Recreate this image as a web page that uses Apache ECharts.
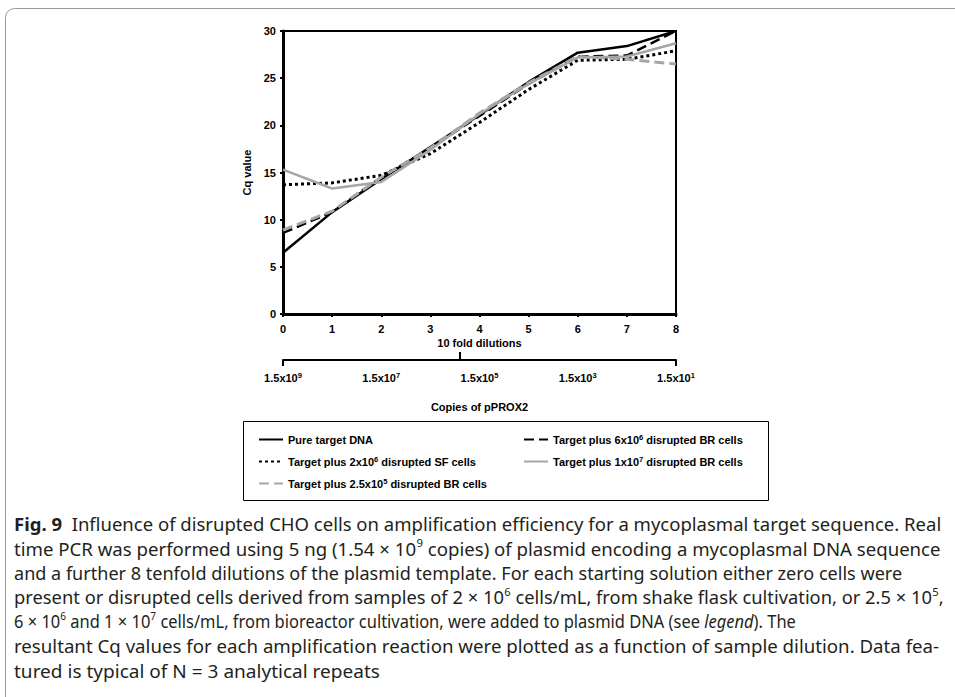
<!DOCTYPE html>
<html><head><meta charset="utf-8">
<script src="https://cdn.jsdelivr.net/npm/echarts@6/dist/echarts.min.js"></script>
<style>html,body{margin:0;padding:0;background:#fff}#c{width:955px;height:697px}</style>
</head><body><div id="c"></div>
<script>
// ---- data ----
const dilutions = [0, 1, 2, 3, 4, 5, 6, 7, 8];
const pureTargetDNA = [6.5, 10.8, 14.3, 17.7, 21.1, 24.6, 27.7, 28.4, 30.0];
const br6x10e6 = [8.6, 10.8, 14.5, 17.6, 21.0, 24.4, 27.3, 27.4, 30.0];
const sf2x10e6 = [13.7, 13.9, 14.7, 17.0, 20.3, 23.8, 26.9, 27.0, 27.9];
const br1x10e7 = [15.3, 13.3, 14.0, 17.4, 21.2, 24.4, 27.2, 27.3, 28.7];
const br25x10e5 = [8.9, 10.9, 14.5, 17.6, 21.3, 24.5, 27.3, 27.0, 26.5];
const seriesNames = [
  'Pure target DNA',
  'Target plus 6x10^6 disrupted BR cells',
  'Target plus 2x10^6 disrupted SF cells',
  'Target plus 1x10^7 disrupted BR cells',
  'Target plus 2.5x10^5 disrupted BR cells'
];
const copyTickValues = [0, 2, 4, 6, 8];
const copyTickLabels = ['1.5x10^9', '1.5x10^7', '1.5x10^5', '1.5x10^3', '1.5x10^1'];
const captionLines = [
  '{b|Fig. 9}  Influence of disrupted CHO cells on amplification efficiency for a mycoplasmal target sequence. Real',
  'time PCR was performed using 5 ng (1.54 × 10{s|9} copies) of plasmid encoding a mycoplasmal DNA sequence',
  'and a further 8 tenfold dilutions of the plasmid template. For each starting solution either zero cells were',
  'present or disrupted cells derived from samples of 2 × 10{s|6} cells/mL, from shake flask cultivation, or 2.5 × 10{s|5},',
  '6 × 10{s|6} and 1 × 10{s|7} cells/mL, from bioreactor cultivation, were added to plasmid DNA (see {i|legend}). The',
  'resultant Cq values for each amplification reaction were plotted as a function of sample dilution. Data fea-',
  'tured is typical of N = 3 analytical repeats'
];
// layout: right edge of each caption line in the reference
const captionRight = [942, 941, 903, 944, 796, 940, 380];

// ---- helpers ----
const supFmt = s => s.replace(/\^(\d+)/g, '{sup|$1}');
const AX = 'Liberation Sans';
const pts = arr => dilutions.map((d, i) => [d, arr[i]]);
const GRAY = '#a6a6a6';

const capFont = 'Noto Sans';
const capSize = 18;
const capLeft = 14;
const ctx = document.createElement('canvas').getContext('2d');
function richWidth(str) {
  let w = 0;
  const re = /\{(\w)\|([^}]*)\}|([^{]+)/g;
  let m;
  while ((m = re.exec(str))) {
    if (m[3] !== undefined) { ctx.font = capSize + 'px "' + capFont + '"'; w += ctx.measureText(m[3]).width; }
    else if (m[1] === 'b') { ctx.font = 'bold ' + capSize + 'px "' + capFont + '"'; w += ctx.measureText(m[2]).width; }
    else if (m[1] === 'i') { ctx.font = 'italic ' + capSize + 'px "' + capFont + '"'; w += ctx.measureText(m[2]).width; }
    else { ctx.font = '11px "' + capFont + '"'; w += ctx.measureText(m[2]).width; }
  }
  return w;
}

const capRich = {
  b: { fontFamily: capFont, fontSize: capSize, fontWeight: 'bold', fill: '#231f20' },
  s: { fontFamily: capFont, fontSize: 11, verticalAlign: 'top', fill: '#231f20' },
  i: { fontFamily: capFont, fontSize: capSize, fontStyle: 'italic', fill: '#231f20' }
};

const graphics = [
  { type: 'rect', silent: true, shape: { x: 5.5, y: 8.5, width: 1200, height: 900, r: [9, 0, 0, 0] },
    style: { fill: 'none', stroke: '#9a9a9a', lineWidth: 1 } },
  { type: 'rect', silent: true, shape: { x: 243.5, y: 421.5, width: 525, height: 79 },
    style: { fill: 'none', stroke: '#000', lineWidth: 1 } }
];
captionLines.forEach((t, i) => {
  const sx = (captionRight[i] - capLeft) / richWidth(t);
  graphics.push({
    type: 'text', silent: true, x: capLeft, y: 524 + i * 24.4, scaleX: sx, originX: 0, originY: 0,
    style: { text: t, fontFamily: capFont, fontSize: capSize, fill: '#231f20',
             verticalAlign: 'middle', lineHeight: 22, rich: capRich }
  });
});

const legendText = {
  fontFamily: AX, fontSize: 11, fontWeight: 'bold', color: '#000', lineHeight: 13,
  rich: { sup: { fontFamily: AX, fontSize: 7.5, fontWeight: 'bold', verticalAlign: 'top', color: '#000' } }
};
const axLabel = { fontFamily: AX, fontSize: 11, fontWeight: 'bold', color: '#000' };

const chart = echarts.init(document.getElementById('c'), null, { renderer: 'svg' });
chart.setOption({
  animation: false,
  backgroundColor: '#fff',
  graphic: graphics,
  grid: [
    { left: 283, top: 31, width: 393, height: 283, show: true, borderColor: '#000', borderWidth: 2, backgroundColor: 'transparent' },
    { left: 283, top: 300, width: 393, height: 60, show: false }
  ],
  xAxis: [
    { gridIndex: 0, type: 'value', min: 0, max: 8, interval: 1,
      name: '10 fold dilutions', nameLocation: 'middle', nameGap: 23,
      nameTextStyle: axLabel,
      axisLine: { show: true, lineStyle: { color: '#000', width: 3 } },
      axisTick: { show: true, length: 3, lineStyle: { color: '#000', width: 2 } },
      axisLabel: Object.assign({ margin: 9 }, axLabel),
      splitLine: { show: false } },
    { gridIndex: 1, type: 'value', min: 0, max: 8, position: 'bottom',
      name: 'Copies of pPROX2', nameLocation: 'middle', nameGap: 41,
      nameTextStyle: axLabel,
      axisLine: { show: true, lineStyle: { color: '#000', width: 2 } },
      axisTick: { show: true, customValues: [0, 8], length: 6, lineStyle: { color: '#000', width: 2 } },
      axisLabel: Object.assign({
        margin: 11, customValues: copyTickValues,
        formatter: v => supFmt(copyTickLabels[copyTickValues.indexOf(v)] || ''),
        rich: { sup: { fontFamily: AX, fontSize: 7.5, fontWeight: 'bold', verticalAlign: 'top', color: '#000' } },
        lineHeight: 14
      }, axLabel),
      splitLine: { show: false } },
    { gridIndex: 1, type: 'value', min: 0, max: 8, position: 'bottom',
      axisLine: { show: false },
      axisTick: { show: true, inside: true, customValues: [3.6], length: 8, lineStyle: { color: '#000', width: 2 } },
      axisLabel: { show: false }, splitLine: { show: false } }
  ],
  yAxis: [
    { gridIndex: 0, type: 'value', min: 0, max: 30, interval: 5,
      name: 'Cq value', nameLocation: 'middle', nameGap: 31, nameRotate: 90,
      nameTextStyle: axLabel,
      axisLine: { show: true, lineStyle: { color: '#000', width: 3 } },
      axisTick: { show: true, length: 3, lineStyle: { color: '#000', width: 2 } },
      axisLabel: Object.assign({ margin: 7 }, axLabel),
      splitLine: { show: false } },
    { gridIndex: 1, type: 'value', show: false, min: 0, max: 1 }
  ],
  legend: [
    { left: 253, top: 428, orient: 'vertical', itemGap: 9, itemWidth: 24, itemHeight: 14,
      data: [seriesNames[0], seriesNames[2], seriesNames[4]],
      itemStyle: { opacity: 0 },
      formatter: supFmt, textStyle: legendText },
    { left: 518, top: 428, orient: 'vertical', itemGap: 9, itemWidth: 24, itemHeight: 14,
      data: [seriesNames[1], seriesNames[3]],
      itemStyle: { opacity: 0 },
      formatter: supFmt, textStyle: legendText }
  ],
  series: [
    { name: seriesNames[0], type: 'line', data: pts(pureTargetDNA), symbol: 'none', showSymbol: false,
      lineStyle: { color: '#000', width: 2.5 }, itemStyle: { color: '#000' } },
    { name: seriesNames[1], type: 'line', data: pts(br6x10e6), symbol: 'none', showSymbol: false,
      lineStyle: { color: '#000', width: 2.5, type: [10, 5] }, itemStyle: { color: '#000' } },
    { name: seriesNames[2], type: 'line', data: pts(sf2x10e6), symbol: 'none', showSymbol: false,
      lineStyle: { color: '#000', width: 3, type: [3, 3] }, itemStyle: { color: '#000' } },
    { name: seriesNames[3], type: 'line', data: pts(br1x10e7), symbol: 'none', showSymbol: false,
      lineStyle: { color: GRAY, width: 2.5 }, itemStyle: { color: GRAY } },
    { name: seriesNames[4], type: 'line', data: pts(br25x10e5), symbol: 'none', showSymbol: false,
      lineStyle: { color: GRAY, width: 3, type: [10, 5] }, itemStyle: { color: GRAY } }
  ]
});
</script>
</body></html>
